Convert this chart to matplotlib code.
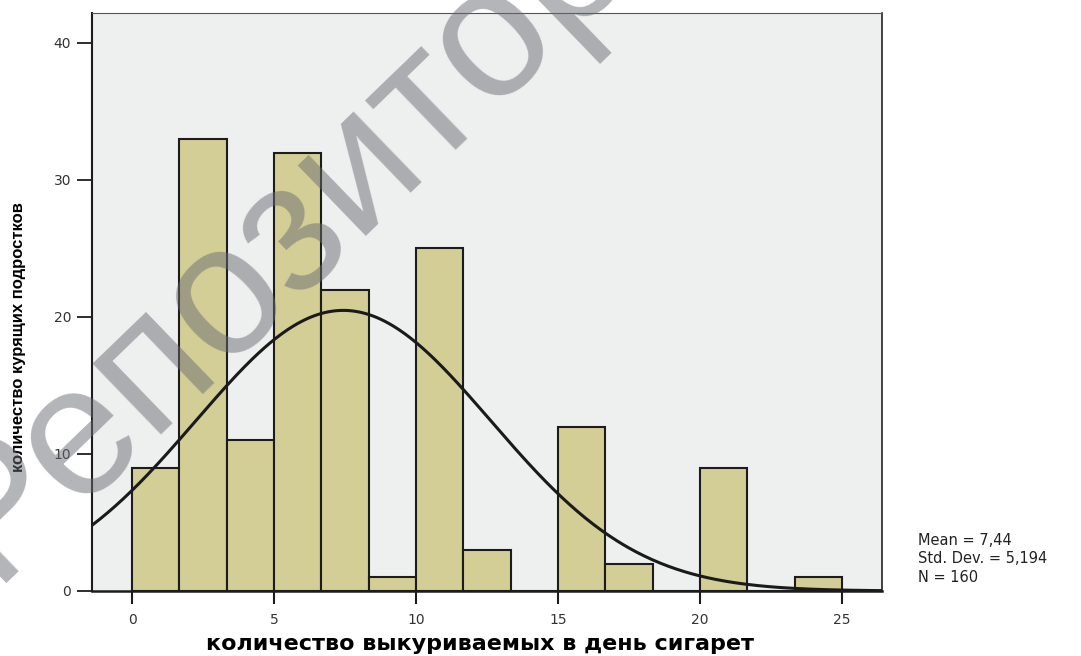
import numpy as np
import matplotlib
matplotlib.use("Agg")
import matplotlib.pyplot as plt

plt.rcParams["font.family"] = "DejaVu Sans"

# histogram of cigarettes smoked per day
counts = [9, 33, 11, 32, 22, 1, 25, 3, 0, 12, 2, 0, 9, 0, 1]
bin_lo, bin_hi = 0, 25
mean, std_dev, n_total = 7.44, 5.194, 160
x_ticks = [0, 5, 10, 15, 20, 25]
y_ticks = [0, 10, 20, 30, 40]

edges = np.linspace(bin_lo, bin_hi, len(counts) + 1)
width = edges[1] - edges[0]

fig = plt.figure(figsize=(10.81, 6.56), dpi=100)
ax = fig.add_axes([0.0851, 0.0991, 0.7308, 0.8811])
ax.set_facecolor("#EEF0EF")

ax.bar(edges[:-1], counts, width=width, align="edge",
       color="#D3CE95", edgecolor="#1c1c1c", linewidth=1.5, zorder=2)

# fitted normal curve scaled to counts
xs = np.linspace(-1.41, 26.41, 400)
pdf = np.exp(-0.5 * ((xs - mean) / std_dev) ** 2) / (std_dev * np.sqrt(2 * np.pi))
ax.plot(xs, pdf * n_total * width, color="#1a1a1a", lw=2.2, zorder=3)

ax.set_xlim(-1.41, 26.41)
ax.set_ylim(0, 42.19)
ax.set_xticks(x_ticks)
ax.set_yticks(y_ticks)
ax.tick_params(axis="x", length=9, width=1.5, pad=7, labelsize=10,
               labelcolor="#333333", color="#1c1c1c")
ax.tick_params(axis="y", length=11, width=1.3, pad=4, labelsize=10,
               labelcolor="#333333", color="#1c1c1c")

ax.spines["left"].set_linewidth(1.5)
ax.spines["bottom"].set_linewidth(1.8)
ax.spines["left"].set_color("#1c1c1c")
ax.spines["bottom"].set_color("#1c1c1c")
ax.spines["top"].set_linewidth(0.8)
ax.spines["top"].set_color("#555555")
ax.spines["right"].set_linewidth(1.2)
ax.spines["right"].set_color("#222222")

fig.text(0.444, 0.003, "количество выкуриваемых в день сигарет", fontsize=16,
         fontweight="bold", ha="center", va="bottom")
fig.text(0.017, 0.486, "количество курящих подростков", fontsize=12,
         fontweight="bold", family="Liberation Sans", rotation=90,
         ha="center", va="center")

stats = "Mean = %s\nStd. Dev. = %s\nN = %d" % (
    str(mean).replace(".", ","), str(std_dev).replace(".", ","), n_total)
fig.text(0.849, 0.188, stats, fontsize=10.5, color="#222222",
         va="top", ha="left", linespacing=1.3)

# repository watermark
fig.text(-0.008, 0.112, "Репозиторий", fontsize=133, family="Liberation Sans",
         rotation=44, rotation_mode="anchor", ha="left", va="baseline",
         color="#696b72", alpha=0.5, zorder=10)

fig.savefig("out.png", dpi=100)
